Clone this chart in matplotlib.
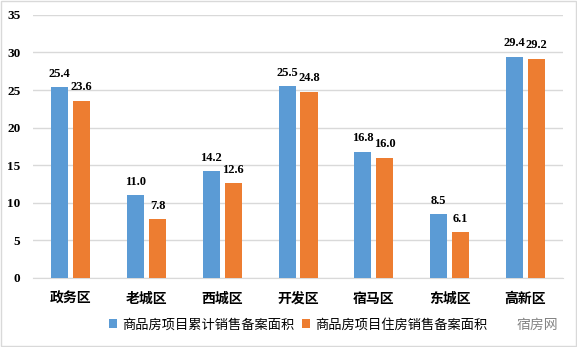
import matplotlib
matplotlib.use("Agg")
import matplotlib.pyplot as plt
import numpy as np

districts = ["政务区", "老城区", "西城区", "开发区", "宿马区", "东城区", "高新区"]
total_area = [25.4, 11.0, 14.2, 25.5, 16.8, 8.5, 29.4]
housing_area = [23.6, 7.8, 12.6, 24.8, 16.0, 6.1, 29.2]
series_names = ["商品房项目累计销售备案面积", "商品房项目住房销售备案面积"]
yticks = [0, 5, 10, 15, 20, 25, 30, 35]

cjk = ["Noto Sans CJK SC", "DejaVu Sans"]
num_font = dict(family="Liberation Serif", weight="bold")

fig = plt.figure(figsize=(5.77, 3.47), dpi=100)
fig.patches.append(plt.Rectangle((0.002, 0.003), 0.996, 0.994, transform=fig.transFigure,
                                 fill=False, edgecolor="#d9d9d9", lw=1))
ax = fig.add_axes([0.057, 0.199, 0.919, 0.758])

x = np.arange(len(districts))
w = 0.225
off = 0.145
b1 = ax.bar(x - off, total_area, w, color="#5b9bd5", label=series_names[0], zorder=3)
b2 = ax.bar(x + off, housing_area, w, color="#ed7d31", label=series_names[1], zorder=3)

# value labels above each bar
for bars, vals in ((b1, total_area), (b2, housing_area)):
    for b, v in zip(bars, vals):
        ax.text(b.get_x() + b.get_width() / 2, v + 1.0, f"{v:.1f}", ha="center", va="bottom",
                fontsize=9, **num_font)

ax.set_xlim(-0.5, len(districts) - 0.5)
ax.set_ylim(0, 35)
ax.set_yticks(yticks)
ax.set_yticklabels([str(t) for t in yticks], fontsize=9.5, **num_font)
ax.set_xticks(x)
ax.set_xticklabels(districts, family=cjk, fontsize=10, weight="bold")
ax.tick_params(length=0)
ax.tick_params(axis="y", pad=9)
ax.tick_params(axis="x", pad=10)
ax.grid(axis="y", color="#d9d9d9", lw=1, zorder=0)
for s in ("top", "right", "left"):
    ax.spines[s].set_visible(False)
ax.spines["bottom"].set_color("#d9d9d9")

ax.legend(loc="center", bbox_to_anchor=(0.5, -0.178), ncol=2, frameon=False,
          prop=dict(family=cjk, size=9.5), handlelength=0.6, handleheight=0.6,
          handletextpad=0.4, columnspacing=0.6)

# site watermark
fig.text(0.968, 0.063, "宿房网", family=cjk, fontsize=10, color="#666666",
         ha="right", va="center", alpha=0.8)

fig.savefig("out.png", dpi=100)
